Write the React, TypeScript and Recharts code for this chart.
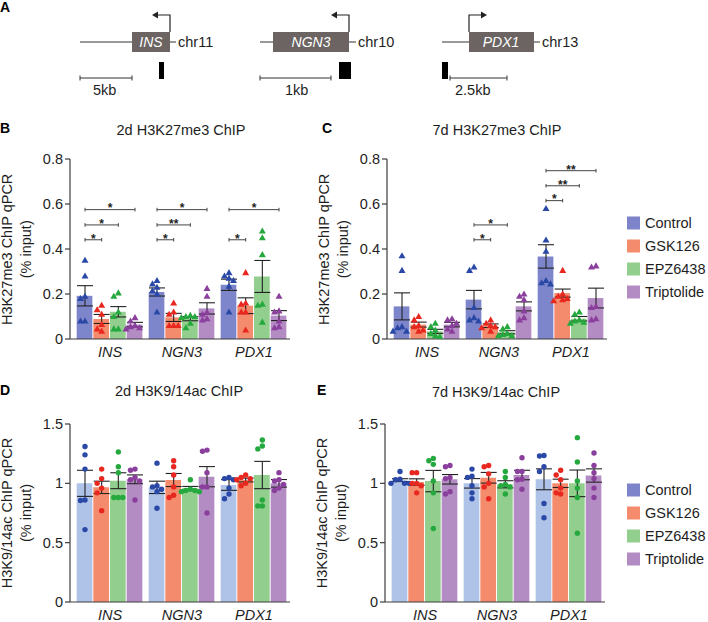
import React from 'react';
import { ComposedChart, Bar, Cell, ErrorBar, XAxis, YAxis, Scatter, ReferenceLine } from 'recharts';

const GENES = ['INS', 'NGN3', 'PDX1'];
const TREATMENTS = ['Control', 'GSK126', 'EPZ6438', 'Triptolide'];

const me3Ticks = [0, 0.2, 0.4, 0.6, 0.8];
const acTicks = [0, 0.5, 1, 1.5];

// B: 2d H3K27me3 ChIP, rows = gene, cols = treatment
const me3d2Mean = [
  [0.192, 0.089, 0.121, 0.064],
  [0.209, 0.096, 0.09, 0.136],
  [0.241, 0.148, 0.278, 0.104],
];
const me3d2Sem = [
  [0.045, 0.02, 0.023, 0.01],
  [0.018, 0.018, 0.009, 0.025],
  [0.025, 0.035, 0.071, 0.022],
];
const me3d2Points = [
  [[0.35, 0.28, 0.19, 0.18, 0.08, 0.08], [0.15, 0.13, 0.11, 0.065, 0.045, 0.035], [0.205, 0.19, 0.12, 0.1, 0.045, 0.045], [0.095, 0.08, 0.06, 0.055, 0.05, 0.045]],
  [[0.26, 0.245, 0.23, 0.215, 0.2, 0.12], [0.16, 0.12, 0.11, 0.06, 0.06, 0.06], [0.105, 0.1, 0.1, 0.095, 0.07, 0.05], [0.225, 0.19, 0.12, 0.11, 0.09, 0.085]],
  [[0.295, 0.28, 0.27, 0.26, 0.235, 0.12], [0.295, 0.16, 0.155, 0.12, 0.12, 0.04], [0.48, 0.45, 0.375, 0.155, 0.15, 0.075], [0.19, 0.125, 0.12, 0.08, 0.055, 0.05]],
];
// [gene, compared treatment, bracket height, stars]
const me3d2Sig: [number, number, number, string][] = [
  [0, 1, 0.441, '*'], [0, 2, 0.507, '*'], [0, 3, 0.575, '*'],
  [1, 1, 0.441, '*'], [1, 2, 0.507, '**'], [1, 3, 0.575, '*'],
  [2, 1, 0.441, '*'], [2, 3, 0.575, '*'],
];

// C: 7d H3K27me3 ChIP
const me3d7Mean = [
  [0.145, 0.064, 0.034, 0.064],
  [0.175, 0.059, 0.03, 0.145],
  [0.367, 0.204, 0.09, 0.182],
];
const me3d7Sem = [
  [0.06, 0.011, 0.009, 0.01],
  [0.041, 0.008, 0.007, 0.02],
  [0.052, 0.018, 0.01, 0.044],
];
const me3d7Points = [
  [[0.37, 0.305, 0.055, 0.05, 0.035, 0.035], [0.1, 0.085, 0.06, 0.055, 0.04, 0.035], [0.07, 0.055, 0.04, 0.025, 0.015, 0.01], [0.09, 0.085, 0.07, 0.06, 0.045, 0.035]],
  [[0.32, 0.305, 0.14, 0.095, 0.085, 0.08], [0.085, 0.07, 0.06, 0.055, 0.05, 0.035], [0.055, 0.045, 0.025, 0.02, 0.015, 0.015], [0.2, 0.19, 0.175, 0.125, 0.095, 0.085]],
  [[0.58, 0.44, 0.39, 0.26, 0.25, 0.245], [0.305, 0.2, 0.19, 0.18, 0.175, 0.17], [0.12, 0.11, 0.085, 0.08, 0.075, 0.07], [0.325, 0.32, 0.145, 0.14, 0.09, 0.085]],
];
const me3d7Sig: [number, number, number, string][] = [
  [1, 1, 0.441, '*'], [1, 2, 0.507, '*'],
  [2, 1, 0.615, '*'], [2, 2, 0.681, '**'], [2, 3, 0.748, '**'],
];

// D: 2d H3K9/14ac ChIP
const acd2Mean = [
  [1.0, 0.966, 1.022, 1.034],
  [0.966, 1.028, 0.958, 1.056],
  [0.986, 1.028, 1.07, 1.0],
];
const acd2Sem = [
  [0.11, 0.052, 0.067, 0.037],
  [0.052, 0.055, 0.016, 0.085],
  [0.045, 0.016, 0.115, 0.032],
];
const acd2Points = [
  [[1.31, 1.24, 1.12, 0.86, 0.855, 0.61], [1.12, 1.04, 1.0, 0.96, 0.92, 0.77], [1.265, 1.14, 1.09, 0.88, 0.88, 0.88], [1.12, 1.11, 1.05, 1.03, 1.02, 0.86]],
  [[1.17, 0.98, 0.97, 0.95, 0.93, 0.79], [1.19, 1.14, 1.07, 0.97, 0.9, 0.88], [1.03, 0.95, 0.94, 0.94, 0.93, 0.93], [1.28, 1.27, 1.09, 0.97, 0.97, 0.75]],
  [[1.05, 1.04, 1.03, 0.96, 0.91, 0.87], [1.07, 1.05, 1.04, 1.03, 1.0, 0.98], [1.365, 1.315, 1.29, 0.86, 0.81, 0.81], [1.09, 1.03, 1.02, 0.99, 0.96, 0.94]],
];

// E: 7d H3K9/14ac ChIP
const acd7Mean = [
  [1.027, 1.011, 1.019, 1.034],
  [1.0, 1.047, 0.992, 1.07],
  [1.034, 1.0, 1.0, 1.066],
];
const acd7Sem = [
  [0.012, 0.027, 0.09, 0.04],
  [0.04, 0.045, 0.03, 0.04],
  [0.088, 0.035, 0.112, 0.056],
];
const acd7Points = [
  [[1.1, 1.035, 1.03, 1.0, 1.0, 1.0], [1.09, 1.09, 1.0, 1.0, 0.98, 0.92], [1.21, 1.19, 1.16, 1.02, 0.92, 0.62], [1.15, 1.14, 1.05, 1.04, 0.93, 0.91]],
  [[1.12, 1.06, 1.05, 0.98, 0.92, 0.87], [1.15, 1.14, 1.08, 1.0, 0.97, 0.87], [1.1, 1.05, 0.99, 0.98, 0.97, 0.91], [1.215, 1.1, 1.1, 1.035, 1.03, 0.95]],
  [[1.235, 1.23, 1.14, 1.1, 0.83, 0.71], [1.11, 1.07, 1.03, 0.96, 0.92, 0.91], [1.385, 1.18, 1.02, 0.96, 0.88, 0.58], [1.255, 1.15, 1.09, 1.04, 0.96, 0.88]],
];

const FONT = '"Liberation Sans", Arial, sans-serif';
const AXIS = '#3c3c3c';
const TEXT = '#1e1e1e';
const me3BarColors = ['#7E86CB', '#F58B6D', '#92CE8D', '#B48CC4'];
const acBarColors = ['#AFC2E7', '#F58B6D', '#92CE8D', '#B48CC4'];
const pointColors = ['#2A48A6', '#E8271F', '#25A83D', '#8B3F9D'];
const legendColors = ['#7E84C9', '#F58B6D', '#92CE8D', '#B48CC4'];

// bar slots on a numeric x axis: 4 bars per gene, small gap between genes
const GROUP = 4.32;
const slotX = (g: number, t: number) => g * GROUP + t + 0.66;
const X_DOMAIN: [number, number] = [-0.24, 3 * GROUP];
const groupCenters = GENES.map((_, g) => g * GROUP + GROUP / 2);

// simple beeswarm so points in a bar don't sit on top of each other
const spread = (vals: number[], minGap: number) => {
  const placed: { v: number; dx: number }[] = [];
  const cols = [0, -0.27, 0.27, -0.54, 0.54];
  return vals.map((v) => {
    const dx = cols.find((c) => placed.every((p) => Math.abs(p.v - v) > minGap || Math.abs(p.dx - c) > 0.2)) ?? 0;
    placed.push({ v, dx });
    return dx;
  });
};

const Triangle = (props: any) => {
  const { cx, cy, fill } = props;
  if (cx == null || cy == null) return <g />;
  return <path d={`M${cx},${cy - 3.6}L${cx + 3.5},${cy + 2.5}L${cx - 3.5},${cy + 2.5}Z`} fill={fill} />;
};
const Dot = (props: any) => {
  const { cx, cy, fill } = props;
  if (cx == null || cy == null) return <g />;
  return <circle cx={cx} cy={cy} r={2.7} fill={fill} />;
};

type Rect = { x0: number; x1: number; y0: number; y1: number };

type PanelProps = {
  rect: Rect;
  means: number[][];
  sems: number[][];
  points: number[][][];
  yMax: number;
  yTicks: number[];
  barColors: string[];
  marker: 'tri' | 'dot';
  sig?: [number, number, number, string][];
};

const Panel = ({ rect, means, sems, points, yMax, yTicks, barColors, marker, sig = [] }: PanelProps) => {
  const w = rect.x1 - rect.x0 + 70;
  const h = rect.y1 - rect.y0 + 40;
  const box: React.CSSProperties = { position: 'absolute', left: rect.x0 - 60, top: rect.y0 - 10, width: w, height: h };
  const pxPerUnit = (rect.y1 - rect.y0) / yMax;

  const bars = means.flatMap((row, g) =>
    row.map((m, t) => ({ x: slotX(g, t), v: m, mean: m, sem: sems[g][t], fill: barColors[t] }))
  );
  const pointRows = TREATMENTS.map((_, t) =>
    GENES.flatMap((_, g) => {
      const vals = points[g][t];
      const dx = spread(vals, 5.5 / pxPerUnit);
      return vals.map((v, i) => ({ x: slotX(g, t) + dx[i], v }));
    })
  );

  const cap = 1.8 / pxPerUnit;
  const starLabel = (text: string) => (p: any) => {
    const vb = p.viewBox || {};
    return (
      <text x={vb.x + vb.width / 2} y={vb.y + 2.8} textAnchor="middle" fontSize={12} fontWeight="bold" fill={TEXT}>
        {text}
      </text>
    );
  };

  return (
    <>
      <div style={box}>
        <ComposedChart width={w} height={h} data={bars} margin={{ top: 10, right: 10, bottom: 0, left: 0 }}>
          <XAxis
            type="number"
            dataKey="x"
            domain={X_DOMAIN}
            allowDataOverflow
            ticks={groupCenters}
            interval={0}
            tickFormatter={(v: number) => GENES[Math.round((v - GROUP / 2) / GROUP)]}
            tickLine={false}
            tickSize={0}
            tickMargin={8}
            height={30}
            axisLine={{ stroke: AXIS, strokeWidth: 1.2 }}
            tick={{ fill: TEXT, fontSize: 14.5, fontStyle: 'italic' }}
          />
          <YAxis
            type="number"
            domain={[0, yMax]}
            ticks={yTicks}
            interval={0}
            width={60}
            tickSize={5}
            tickMargin={2}
            tickFormatter={(v: number) => String(v)}
            axisLine={{ stroke: AXIS, strokeWidth: 1.2 }}
            tickLine={{ stroke: AXIS, strokeWidth: 1.2 }}
            tick={{ fill: TEXT, fontSize: 14.5 }}
          />
          <Bar dataKey="mean" barSize={15.7} isAnimationActive={false}>
            {bars.map((b, i) => (
              <Cell key={i} fill={b.fill} />
            ))}
          </Bar>
          {sig.map(([g, t, y, s], i) => {
            const xa = slotX(g, 0);
            const xb = slotX(g, t);
            return (
              <React.Fragment key={i}>
                <ReferenceLine segment={[{ x: xa, y }, { x: xb, y }]} stroke="#444" strokeWidth={1} label={starLabel(s)} />
                <ReferenceLine segment={[{ x: xa, y: y - cap }, { x: xa, y: y + cap }]} stroke="#444" strokeWidth={1} />
                <ReferenceLine segment={[{ x: xb, y: y - cap }, { x: xb, y: y + cap }]} stroke="#444" strokeWidth={1} />
              </React.Fragment>
            );
          })}
        </ComposedChart>
      </div>
      <div style={{ ...box, pointerEvents: 'none' }}>
        <ComposedChart width={w} height={h} margin={{ top: 10, right: 10, bottom: 30, left: 60 }}>
          <XAxis hide type="number" dataKey="x" domain={X_DOMAIN} allowDataOverflow />
          <YAxis hide type="number" domain={[0, yMax]} allowDataOverflow />
          {TREATMENTS.map((name, t) => (
            <Scatter
              key={name}
              name={name}
              data={pointRows[t]}
              dataKey="v"
              fill={pointColors[t]}
              shape={marker === 'tri' ? Triangle : Dot}
              isAnimationActive={false}
            />
          ))}
          <Scatter data={bars} dataKey="v" shape={() => <g />} isAnimationActive={false}>
            <ErrorBar dataKey="sem" direction="y" width={8} stroke="#222" strokeWidth={1.1} />
          </Scatter>
        </ComposedChart>
      </div>
    </>
  );
};

const rectB: Rect = { x0: 70, x1: 290, y0: 159.3, y1: 339.3 };
const rectC: Rect = { x0: 386.5, x1: 606.5, y0: 159.3, y1: 339.3 };
const rectD: Rect = { x0: 70, x1: 290, y0: 424, y1: 602 };
const rectE: Rect = { x0: 385, x1: 605, y0: 424, y1: 602 };

const YLabel = ({ x, y, lines }: { x: number; y: number; lines: string[] }) => (
  <g>
    <text x={0} y={0} transform={`translate(${x},${y}) rotate(-90)`} textAnchor="middle" fontSize={14.5} fill={TEXT}>
      {lines[0]}
    </text>
    <text x={0} y={0} transform={`translate(${x + 19},${y}) rotate(-90)`} textAnchor="middle" fontSize={14.5} fill={TEXT}>
      {lines[1]}
    </text>
  </g>
);

const Legend = ({ x, y }: { x: number; y: number }) => (
  <g>
    {TREATMENTS.map((name, i) => (
      <g key={name}>
        <rect x={x} y={y + i * 23 - 6.5} width={13} height={13} fill={legendColors[i]} />
        <text x={x + 18} y={y + i * 23 + 5.3} fontSize={14.5} fill={TEXT}>
          {name}
        </text>
      </g>
    ))}
  </g>
);

const GENE_BOX = '#6B6462';

const GeneMap = () => (
  <g stroke="none">
    {/* INS */}
    <line x1={80} y1={42} x2={132} y2={42} stroke="#333" />
    <rect x={132} y={32} width={38} height={20} fill={GENE_BOX} />
    <text x={151} y={47} textAnchor="middle" fontSize={14} fontStyle="italic" fill="#fff">INS</text>
    <line x1={170} y1={42} x2={176} y2={42} stroke="#333" />
    <text x={178} y={47} fontSize={14.5} fill={TEXT}>chr11</text>
    <path d="M170,32V15H157" fill="none" stroke="#222" strokeWidth={1.2} />
    <path d="M152,15L158,11.5L158,18.5Z" fill="#222" />
    <rect x={159} y={62} width={5} height={17} fill="#000" />
    <line x1={80} y1={78} x2={132} y2={78} stroke="#333" />
    <line x1={80} y1={75.5} x2={80} y2={80.5} stroke="#333" />
    <line x1={132} y1={75.5} x2={132} y2={80.5} stroke="#333" />
    <text x={93} y={95} fontSize={14.5} fill={TEXT}>5kb</text>

    {/* NGN3 */}
    <line x1={260} y1={42} x2={273} y2={42} stroke="#333" />
    <rect x={273} y={32} width={76} height={20} fill={GENE_BOX} />
    <text x={311} y={47} textAnchor="middle" fontSize={14} fontStyle="italic" fill="#fff">NGN3</text>
    <line x1={349} y1={42} x2={356} y2={42} stroke="#333" />
    <text x={358} y={47} fontSize={14.5} fill={TEXT}>chr10</text>
    <path d="M349,32V15H336" fill="none" stroke="#222" strokeWidth={1.2} />
    <path d="M331,15L337,11.5L337,18.5Z" fill="#222" />
    <rect x={339} y={62} width={12} height={17} fill="#000" />
    <line x1={260} y1={78} x2={331} y2={78} stroke="#333" />
    <line x1={260} y1={75.5} x2={260} y2={80.5} stroke="#333" />
    <line x1={331} y1={75.5} x2={331} y2={80.5} stroke="#333" />
    <text x={285} y={95} fontSize={14.5} fill={TEXT}>1kb</text>

    {/* PDX1 */}
    <line x1={442} y1={42} x2={469} y2={42} stroke="#333" />
    <rect x={469} y={32} width={65} height={20} fill={GENE_BOX} />
    <text x={501} y={47} textAnchor="middle" fontSize={14} fontStyle="italic" fill="#fff">PDX1</text>
    <line x1={534} y1={42} x2={540} y2={42} stroke="#333" />
    <text x={542} y={47} fontSize={14.5} fill={TEXT}>chr13</text>
    <path d="M469,32V15H482" fill="none" stroke="#222" strokeWidth={1.2} />
    <path d="M487,15L481,11.5L481,18.5Z" fill="#222" />
    <rect x={442} y={62} width={6} height={17} fill="#000" />
    <line x1={450} y1={78} x2={507} y2={78} stroke="#333" />
    <line x1={450} y1={75.5} x2={450} y2={80.5} stroke="#333" />
    <line x1={507} y1={75.5} x2={507} y2={80.5} stroke="#333" />
    <text x={455} y={95} fontSize={14.5} fill={TEXT}>2.5kb</text>
  </g>
);

const PanelLetter = ({ x, y, c }: { x: number; y: number; c: string }) => (
  <text x={x} y={y} fontSize={14} fontWeight="bold" fill="#000">{c}</text>
);

const Title = ({ x, y, t }: { x: number; y: number; t: string }) => (
  <text x={x} y={y} textAnchor="middle" fontSize={14.5} fill={TEXT}>{t}</text>
);

export default function App() {
  return (
    <div style={{ position: 'absolute', left: 0, top: 0, width: 708, height: 622, background: '#fff', fontFamily: FONT, overflow: 'hidden' }}>
      <Panel rect={rectB} means={me3d2Mean} sems={me3d2Sem} points={me3d2Points} yMax={0.8} yTicks={me3Ticks} barColors={me3BarColors} marker="tri" sig={me3d2Sig} />
      <Panel rect={rectC} means={me3d7Mean} sems={me3d7Sem} points={me3d7Points} yMax={0.8} yTicks={me3Ticks} barColors={me3BarColors} marker="tri" sig={me3d7Sig} />
      <Panel rect={rectD} means={acd2Mean} sems={acd2Sem} points={acd2Points} yMax={1.5} yTicks={acTicks} barColors={acBarColors} marker="dot" />
      <Panel rect={rectE} means={acd7Mean} sems={acd7Sem} points={acd7Points} yMax={1.5} yTicks={acTicks} barColors={acBarColors} marker="dot" />
      <svg width={708} height={622} style={{ position: 'absolute', left: 0, top: 0, pointerEvents: 'none', fontFamily: FONT }}>
        <PanelLetter x={0} y={12} c="A" />
        <GeneMap />
        <PanelLetter x={0} y={133.3} c="B" />
        <PanelLetter x={322} y={133.3} c="C" />
        <PanelLetter x={0} y={395} c="D" />
        <PanelLetter x={317} y={395} c="E" />
        <Title x={181} y={135} t="2d H3K27me3 ChIP" />
        <Title x={497} y={135} t="7d H3K27me3 ChIP" />
        <Title x={179} y={395.5} t="2d H3K9/14ac ChIP" />
        <Title x={496} y={396.5} t="7d H3K9/14ac ChIP" />
        <YLabel x={12} y={249.3} lines={['H3K27me3 ChIP qPCR', '(% input)']} />
        <YLabel x={328.5} y={249.3} lines={['H3K27me3 ChIP qPCR', '(% input)']} />
        <YLabel x={12} y={513} lines={['H3K9/14ac ChIP qPCR', '(% input)']} />
        <YLabel x={327} y={513} lines={['H3K9/14ac ChIP qPCR', '(% input)']} />
        <Legend x={627} y={223} />
        <Legend x={627} y={490} />
      </svg>
    </div>
  );
}
